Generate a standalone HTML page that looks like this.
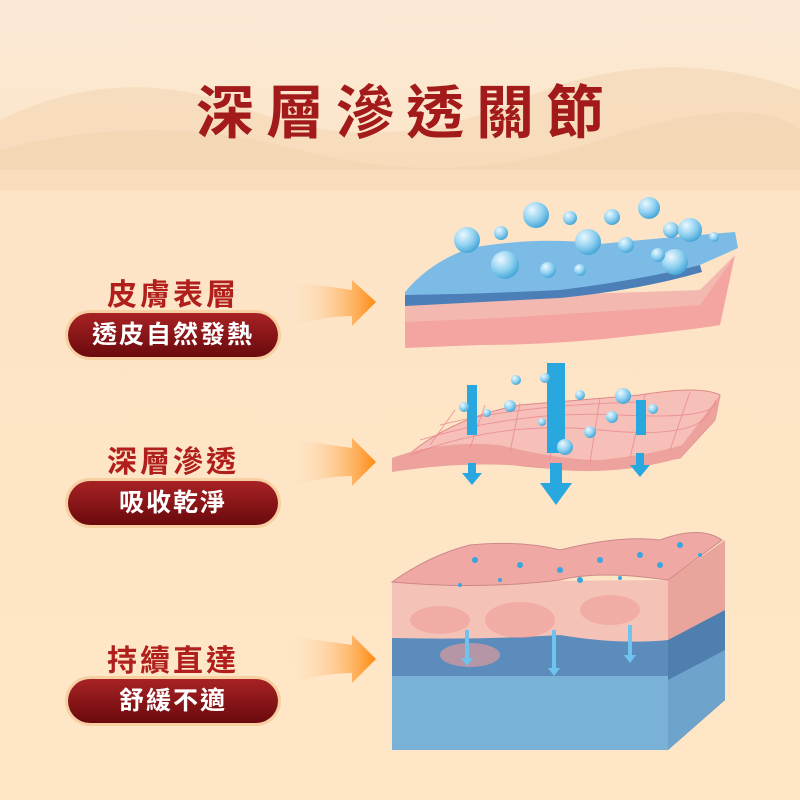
<!DOCTYPE html>
<html><head><meta charset="utf-8"><style>
body{margin:0;width:800px;height:800px;overflow:hidden;background:#fde6c8;font-family:"Liberation Sans","Noto Sans CJK TC",sans-serif}
.t{position:absolute;color:#b01f1c;font-weight:bold;text-align:center}
.pill{position:absolute;left:68px;width:210px;height:44px;border-radius:22px;background:linear-gradient(#a82224,#6a0a0d);box-shadow:0 0 0 3px #f7cfa0;color:#fff;font-size:25px;font-weight:bold;text-align:center;line-height:44px;letter-spacing:2px}
</style></head><body>
<svg width="800" height="800" style="position:absolute;left:0;top:0">
<defs>
<linearGradient id="bg" x1="0" y1="0" x2="0" y2="1"><stop offset="0" stop-color="#fbe9d6"/><stop offset=".25" stop-color="#fde4c6"/><stop offset="1" stop-color="#fee6c6"/></linearGradient>
<linearGradient id="ar" x1="0" x2="1"><stop offset="0" stop-color="#fde6c8" stop-opacity="0"/><stop offset="1" stop-color="#ff8a10"/></linearGradient>
<radialGradient id="bb" cx=".35" cy=".3" r=".7"><stop offset="0" stop-color="#eaf8ff"/><stop offset=".6" stop-color="#8fd0f0"/><stop offset="1" stop-color="#4aa8d8"/></radialGradient>
</defs>
<rect width="800" height="800" fill="url(#bg)"/>
<path d="M0 120 Q120 60 250 110 T520 100 T800 90 L800 170 L0 170Z" fill="#f1d3b0" opacity=".5"/>
<path d="M0 150 Q150 110 300 150 T600 140 T800 130 L800 190 L0 190Z" fill="#efcfa9" opacity=".4"/>
<g fill="url(#ar)">
<path d="M288 282 Q320 285 352 290 L352 280 L376 302 L352 326 L352 316 Q320 316 288 328Z"/>
<path d="M288 440 Q320 443 352 448 L352 438 L376 462 L352 486 L352 476 Q320 476 288 488Z"/>
<path d="M288 637 Q320 640 352 645 L352 635 L376 659 L352 683 L352 673 Q320 673 288 685Z"/>
</g>
<!-- layer 1 -->
<path d="M405 310 Q450 300 520 305 T700 305 L735 255 L720 325 Q690 330 640 335 Q560 345 480 345 L405 348Z" fill="#f4a5a2"/>
<path d="M405 300 L700 290 L735 255 L725 270 L700 305 Q600 312 500 318 L405 322Z" fill="#f3b8b0"/>
<path d="M405 292 Q430 262 470 248 Q540 236 600 244 Q660 238 735 232 L738 248 L700 265 Q640 280 560 292 Q480 300 405 302Z" fill="#7cbbe6"/>
<path d="M405 295 Q480 294 560 290 Q640 280 700 265 L702 272 Q640 290 560 298 Q480 302 405 306Z" fill="#4c7fb8"/>
<g fill="url(#bb)">
<circle cx="536" cy="215" r="13"/><circle cx="570" cy="218" r="7"/><circle cx="612" cy="217" r="8"/><circle cx="649" cy="208" r="11"/><circle cx="467" cy="240" r="13"/><circle cx="501" cy="233" r="7"/><circle cx="588" cy="242" r="13"/><circle cx="626" cy="245" r="8"/><circle cx="671" cy="230" r="8"/><circle cx="690" cy="230" r="12"/><circle cx="505" cy="265" r="14"/><circle cx="548" cy="270" r="8"/><circle cx="580" cy="270" r="6"/><circle cx="675" cy="262" r="13"/><circle cx="658" cy="255" r="7"/><circle cx="714" cy="237" r="5"/>
</g>
<!-- layer 2 -->
<path d="M392 470 Q440 420 520 405 Q580 400 640 395 Q700 385 720 395 L715 420 L680 458 Q640 465 600 470 Q540 470 480 460 Q430 455 392 470Z" fill="#f6c0b8" stroke="#d88"/>
<path d="M392 458 Q440 440 500 445 Q560 460 600 460 Q650 455 682 445 L720 395 L715 420 L680 458 Q620 475 560 470 Q480 458 392 472Z" fill="#eea29e"/>
<g stroke="#e7828a" stroke-width="1" fill="none" opacity=".7">
<path d="M430 445 L455 410 M470 448 L485 405 M510 452 L520 403 M550 460 L555 400 M590 462 L600 398 M630 458 L645 395 M670 450 L690 392"/>
<path d="M410 455 Q500 420 600 430 T710 410 M420 440 Q520 410 620 415 T715 400 M440 425 Q520 405 640 402"/>
</g>
<g fill="#29a8e0">
<path d="M467 385h10v50h-10z"/><path d="M547 363h18v90h-18z"/><path d="M636 400h10v35h-10z"/>
<path d="M468 463h8v10h6l-10 12-10-12h6z"/><path d="M550 463h12v20h10l-16 22-16-22h10z"/><path d="M636 453h8v12h6l-10 12-10-12h6z"/>
</g>
<g fill="url(#bb)"><circle cx="516" cy="380" r="5"/><circle cx="545" cy="378" r="5"/><circle cx="510" cy="406" r="6"/><circle cx="580" cy="395" r="5"/><circle cx="623" cy="396" r="8"/><circle cx="565" cy="447" r="8"/><circle cx="590" cy="432" r="6"/><circle cx="612" cy="417" r="6"/><circle cx="653" cy="409" r="5"/><circle cx="464" cy="407" r="5"/><circle cx="487" cy="413" r="4"/><circle cx="542" cy="422" r="4"/></g>
<!-- block 3 -->
<path d="M392 582 L668 580 L668 750 L392 750Z" fill="#f5c2b8"/>
<path d="M392 638 Q480 640 560 635 Q620 645 668 640 L668 750 L392 750Z" fill="#5b8cbc"/>
<path d="M392 676 L668 676 L668 750 L392 750Z" fill="#7ab1d6"/>
<path d="M668 580 L725 540 L725 700 L668 750Z" fill="#e9a59c"/>
<path d="M668 640 L725 610 L725 700 L668 750Z" fill="#4f7fae"/>
<path d="M668 680 L725 650 L725 700 L668 750Z" fill="#6ea4cc"/>
<path d="M392 582 Q430 555 470 545 Q520 540 560 550 Q620 535 660 540 Q700 525 722 540 L668 580 Q600 570 560 580 Q480 590 392 582Z" fill="#f0a8a5" stroke="#c88" />
<g fill="#ef9e9a" opacity=".6"><ellipse cx="440" cy="620" rx="30" ry="14"/><ellipse cx="520" cy="620" rx="35" ry="18"/><ellipse cx="610" cy="610" rx="30" ry="15"/><ellipse cx="470" cy="655" rx="30" ry="12"/></g>
<g fill="#3aa6e0"><circle cx="475" cy="560" r="3"/><circle cx="520" cy="565" r="3"/><circle cx="560" cy="570" r="3"/><circle cx="600" cy="560" r="3"/><circle cx="640" cy="555" r="3"/><circle cx="680" cy="545" r="3"/><circle cx="500" cy="580" r="2"/><circle cx="580" cy="580" r="3"/><circle cx="620" cy="578" r="2"/><circle cx="660" cy="565" r="3"/><circle cx="460" cy="585" r="2"/><circle cx="700" cy="555" r="2"/></g>
<g fill="#6fc3ef"><path d="M465 630h4v28h4l-6 8-6-8h4z"/><path d="M552 630h4v38h4l-6 8-6-8h4z"/><path d="M628 625h4v30h4l-6 8-6-8h4z"/></g>
</svg>
<div class="t" style="left:0;width:800px;top:66px;font-size:58px;letter-spacing:12px;text-indent:12px;color:#a31a1a">深層滲透關節</div>
<div class="t" style="left:68px;width:210px;top:270px;font-size:30px;letter-spacing:3px">皮膚表層</div>
<div class="pill" style="top:313px">透皮自然發熱</div>
<div class="t" style="left:68px;width:210px;top:437px;font-size:30px;letter-spacing:3px">深層滲透</div>
<div class="pill" style="top:481px">吸收乾淨</div>
<div class="t" style="left:68px;width:210px;top:636px;font-size:30px;letter-spacing:3px">持續直達</div>
<div class="pill" style="top:679px">舒緩不適</div>
</body></html>
